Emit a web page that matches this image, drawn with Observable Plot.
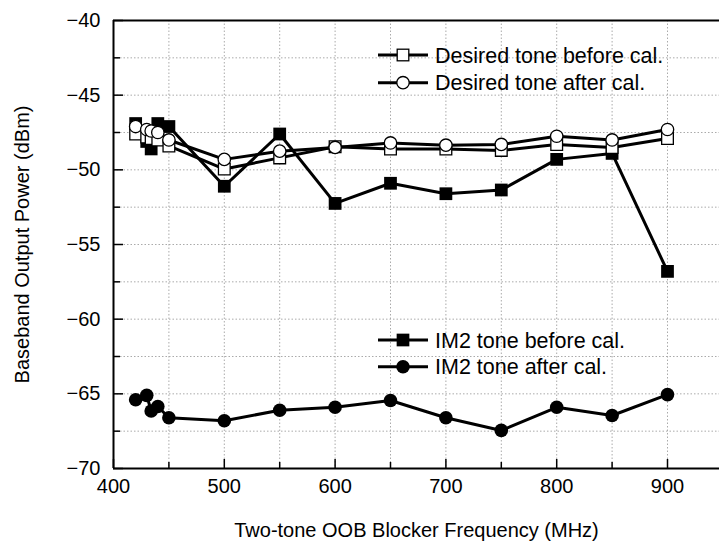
<!DOCTYPE html>
<html>
<head>
<meta charset="utf-8">
<script src="https://cdn.jsdelivr.net/npm/d3@7"></script>
<script src="https://cdn.jsdelivr.net/npm/@observablehq/plot@0.6"></script>
<style>
  html, body { margin: 0; padding: 0; background: #fff; }
  #wrap { position: relative; width: 719px; height: 553px; font-family: "Liberation Sans", Arial, sans-serif; }
  #legend { position: absolute; left: 0; top: 0; pointer-events: none; }
</style>
</head>
<body>
<div id="wrap"></div>
<script>
// ---- data ----
const freq = [420, 430, 434, 440, 450, 500, 550, 600, 650, 700, 750, 800, 850, 900];
const desiredBefore = [-47.6, -47.8, -47.9, -48.0, -48.4, -49.95, -49.2, -48.45, -48.6, -48.6, -48.7, -48.3, -48.5, -47.9];
const desiredAfter  = [-47.1, -47.3, -47.4, -47.5, -48.0, -49.3, -48.75, -48.5, -48.2, -48.35, -48.3, -47.75, -48.0, -47.3];
const im2Before     = [-46.9, -48.1, -48.6, -46.9, -47.1, -51.1, -47.6, -52.25, -50.9, -51.6, -51.35, -49.3, -48.9, -56.8];
const im2After      = [-65.4, -65.1, -66.15, -65.85, -66.6, -66.8, -66.1, -65.9, -65.45, -66.6, -67.45, -65.9, -66.45, -65.05];
const xMajor = [400, 500, 600, 700, 800, 900];
const xMinor = [450, 550, 650, 750, 850];
const yMajor = [-70, -65, -60, -55, -50, -45, -40];
const yMinor = [-67.5, -62.5, -57.5, -52.5, -47.5, -42.5];
const xTitle = "Two-tone OOB Blocker Frequency (MHz)";
const yTitle = "Baseband Output Power (dBm)";
const legendTop = ["Desired tone before cal.", "Desired tone after cal."];
const legendBottom = ["IM2 tone before cal.", "IM2 tone after cal."];

const rows = (vals) => freq.map((f, i) => ({f, v: vals[i]}));
const dB = rows(desiredBefore), dA = rows(desiredAfter), iB = rows(im2Before), iA = rows(im2After);

const W = 719, H = 553, mL = 113, mT = 20, mR = 0, mB = 85;
const plotW = W - mL - mR, plotH = H - mT - mB;
const font = 20, legendFont = 21.5;

const chart = Plot.plot({
  width: W, height: H,
  marginLeft: mL, marginTop: mT, marginRight: mR, marginBottom: mB,
  style: {fontFamily: '"Liberation Sans", Arial, sans-serif', fontSize: font + "px", background: "white", color: "black"},
  x: {domain: [400, 400 + plotW / 1.108], axis: null},
  y: {domain: [-70, -40], axis: null},
  marks: [
    Plot.gridX([...xMinor, ...xMajor.slice(1)], {stroke: "#aaa", strokeOpacity: 1, strokeDasharray: "1.5,2"}),
    Plot.gridY([...yMinor, ...yMajor.slice(1, -1)], {stroke: "#aaa", strokeOpacity: 1, strokeDasharray: "1.5,2"}),
    Plot.tickX(xMajor, {x: d => d, insetTop: plotH - 9, strokeWidth: 1.5}),
    Plot.tickX(xMinor, {x: d => d, insetTop: plotH - 6, strokeWidth: 1.5}),
    Plot.tickY(yMajor, {y: d => d, insetRight: plotW - 10, strokeWidth: 1.5}),
    Plot.tickY(yMinor, {y: d => d, insetRight: plotW - 7, strokeWidth: 1.5}),
    Plot.ruleX([400], {strokeWidth: 2}),
    Plot.ruleY([-40, -70], {strokeWidth: 2}),
    Plot.axisX(xMajor, {tickSize: 0, tickPadding: 10, fontSize: font, label: null}),
    Plot.axisY(yMajor, {tickSize: 0, tickPadding: 13, fontSize: font, label: null, tickFormat: d => "\u2212" + Math.abs(d)}),
    Plot.text([xTitle], {frameAnchor: "bottom", dy: 68, fontSize: font, textAnchor: "middle"}),
    Plot.text([yTitle], {frameAnchor: "left", dx: -91, rotate: -90, fontSize: font, textAnchor: "middle"}),
    // series
    Plot.line(iB, {x: "f", y: "v", stroke: "black", strokeWidth: 3}),
    Plot.line(dB, {x: "f", y: "v", stroke: "black", strokeWidth: 3}),
    Plot.line(dA, {x: "f", y: "v", stroke: "black", strokeWidth: 3}),
    Plot.line(iA, {x: "f", y: "v", stroke: "black", strokeWidth: 3}),
    Plot.dot(iB, {x: "f", y: "v", symbol: "square", r: 7.2, fill: "black", stroke: "none"}),
    Plot.dot(dB, {x: "f", y: "v", symbol: "square", r: 6.6, fill: "white", stroke: "black", strokeWidth: 1.3}),
    Plot.dot(dA, {x: "f", y: "v", symbol: "circle", r: 6.2, fill: "white", stroke: "black", strokeWidth: 1.3}),
    Plot.dot(iA, {x: "f", y: "v", symbol: "circle", r: 6.8, fill: "black", stroke: "none"})
  ]
});
const wrap = document.getElementById("wrap");
wrap.appendChild(chart);

// ---- legend overlay ----
const svg = d3.select(wrap).append("svg").attr("id", "legend").attr("width", W).attr("height", H)
  .attr("font-family", '"Liberation Sans", Arial, sans-serif').attr("font-size", legendFont);
const entries = [
  {label: legendTop[0], y: 55, sym: "square", fill: "white"},
  {label: legendTop[1], y: 82.7, sym: "circle", fill: "white"},
  {label: legendBottom[0], y: 340, sym: "square", fill: "black"},
  {label: legendBottom[1], y: 366.7, sym: "circle", fill: "black"}
];
entries.forEach(e => {
  const g = svg.append("g");
  g.append("line").attr("x1", 378).attr("x2", 428).attr("y1", e.y).attr("y2", e.y).attr("stroke", "black").attr("stroke-width", 3);
  if (e.sym === "square") {
    const s = e.fill === "white" ? 11.6 : 12.7;
    g.append("rect").attr("x", 403 - s / 2).attr("y", e.y - s / 2).attr("width", s).attr("height", s)
      .attr("fill", e.fill).attr("stroke", e.fill === "white" ? "black" : "none").attr("stroke-width", 1.3);
  } else {
    g.append("circle").attr("cx", 403).attr("cy", e.y).attr("r", e.fill === "white" ? 6.2 : 6.8)
      .attr("fill", e.fill).attr("stroke", e.fill === "white" ? "black" : "none").attr("stroke-width", 1.3);
  }
  g.append("text").attr("x", 435).attr("y", e.y).attr("dy", "0.35em").text(e.label);
});
</script>
</body>
</html>
